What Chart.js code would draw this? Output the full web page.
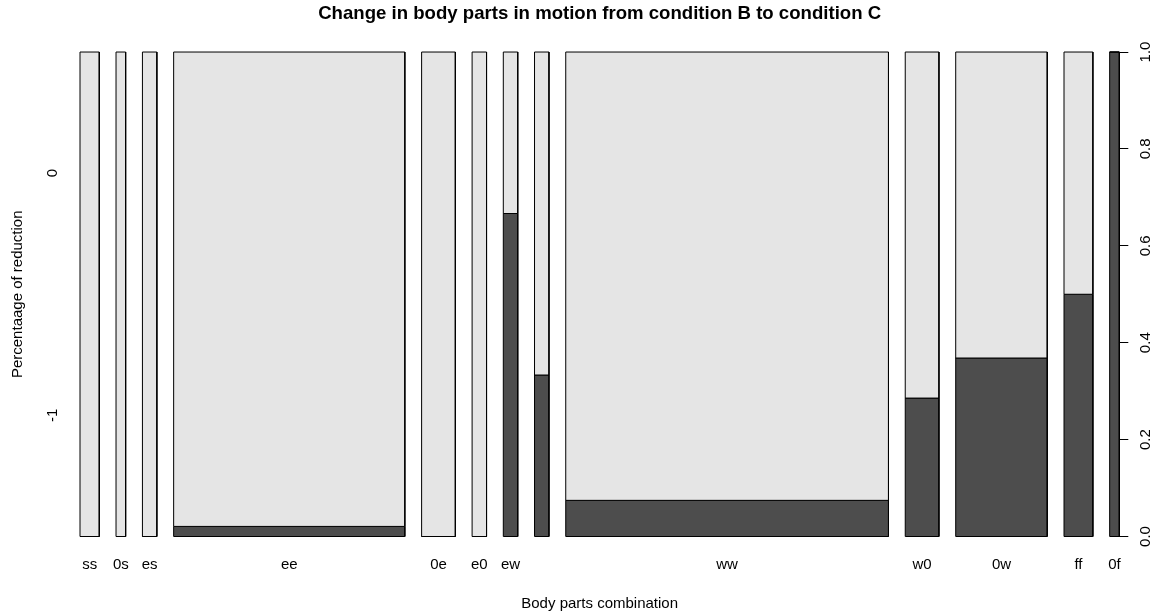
<!DOCTYPE html>
<html>
<head>
<meta charset="utf-8">
<title>Change in body parts in motion from condition B to condition C</title>
<script src="https://cdn.jsdelivr.net/npm/chart.js@4.4.1/dist/chart.umd.min.js"></script>
<style>
  html, body { margin: 0; padding: 0; background: #fff; }
  canvas { display: block; }
</style>
</head>
<body>
<canvas id="chart" width="1158" height="611"></canvas>
<script>
// body part combinations on the x axis (one label is not printed in the original)
const categories = ['ss', '0s', 'es', 'ee', '0e', 'e0', 'ew', '', 'ww', 'w0', '0w', 'ff', '0f'];
// observations per combination -> column widths
const totalCounts = [4, 2, 3, 48, 7, 3, 3, 3, 67, 7, 19, 6, 2];
// how many of those are in level "-1" (the dark part)
const reducedCounts = [0, 0, 0, 1, 0, 0, 2, 1, 5, 2, 7, 3, 2];
// y levels, bottom to top
const yLevels = ['-1', '0'];
const rightTicks = [0, 0.2, 0.4, 0.6, 0.8, 1];

const LIGHT = '#e5e5e5';
const DARK = '#4d4d4d';
const FONT = '"Liberation Sans", Arial, Helvetica, sans-serif';

// spineplot geometry: widths proportional to counts, 2% gap between columns
const off = 0.02;
const total = totalCounts.reduce((a, b) => a + b, 0);
const xLeft = [], xRight = [], share = [];
let pos = 0;
totalCounts.forEach((n, i) => {
  xLeft.push(pos);
  xRight.push(pos + n / total);
  share.push(reducedCounts[i] / n);
  pos += n / total + off;
});
const xMax = 1 + off * (categories.length - 1);
const centers = xLeft.map((l, i) => (l + xRight[i]) / 2);

const rect = (x0, x1, y0, y1) => [
  { x: x0, y: y0 }, { x: x0, y: y1 }, { x: x1, y: y1 }, { x: x1, y: y0 }, { x: x0, y: y0 }
];

const datasets = [];
categories.forEach((c, i) => {
  const common = {
    showLine: true, fill: 'shape', borderColor: '#000', borderWidth: 1,
    pointRadius: 0, pointHoverRadius: 0, tension: 0, clip: 2
  };
  datasets.push(Object.assign({ label: c + ' 0', data: rect(xLeft[i], xRight[i], share[i], 1), backgroundColor: LIGHT }, common));
  datasets.push(Object.assign({ label: c + ' -1', data: rect(xLeft[i], xRight[i], 0, share[i]), backgroundColor: DARK }, common));
});

// R draws its axis labels parallel to the axis, Chart.js can't rotate y ticks
const rotatedLabels = {
  id: 'rotatedLabels',
  afterDraw(chart) {
    const { ctx, scales } = chart;
    const put = (text, x, y) => {
      ctx.save();
      ctx.translate(x, y);
      ctx.rotate(-Math.PI / 2);
      ctx.fillText(text, 0, 0);
      ctx.restore();
    };
    ctx.save();
    ctx.fillStyle = '#000';
    ctx.font = '15px ' + FONT;
    ctx.textAlign = 'center';
    ctx.textBaseline = 'middle';
    rightTicks.forEach(v => put(v.toFixed(1), scales.y2.right - 12, scales.y2.getPixelForValue(v)));
    yLevels.forEach((t, k) => put(t, scales.y.right - 27, scales.y.getPixelForValue((k + 0.5) / yLevels.length)));
    ctx.restore();
  }
};

Chart.defaults.color = '#000';
Chart.defaults.font.family = FONT;
Chart.defaults.font.size = 15;

new Chart(document.getElementById('chart'), {
  type: 'scatter',
  data: { datasets },
  plugins: [rotatedLabels],
  options: {
    responsive: false,
    animation: false,
    devicePixelRatio: 1,
    layout: { padding: 0 },
    plugins: {
      legend: { display: false },
      tooltip: { enabled: false },
      title: {
        display: true,
        text: 'Change in body parts in motion from condition B to condition C',
        font: { size: 18.6, weight: 'bold' },
        fullSize: false,
        padding: { top: 2.6, bottom: 27.1 }
      }
    },
    scales: {
      x: {
        type: 'linear',
        min: 0,
        max: xMax,
        grid: { display: false, drawTicks: false },
        border: { display: false },
        afterBuildTicks: scale => { scale.ticks = centers.map(v => ({ value: v })); },
        afterFit: scale => { scale.height = 74.5; },
        ticks: {
          autoSkip: false,
          maxRotation: 0,
          padding: 19,
          callback: (v, i) => categories[i]
        },
        title: { display: true, text: 'Body parts combination', font: { lineHeight: 1 }, padding: { top: 0, bottom: 0 } }
      },
      y: {
        position: 'left',
        min: 0,
        max: 1,
        grid: { display: false },
        border: { display: false },
        ticks: { display: false },
        afterFit: scale => { scale.width = 80; },
        title: { display: true, text: 'Percentaage of reduction', font: { lineHeight: 1 }, padding: { top: 10, bottom: 0 } }
      },
      y2: {
        position: 'right',
        min: 0,
        max: 1,
        grid: { drawOnChartArea: false, drawTicks: true, tickLength: 9, color: '#000' },
        border: { display: true, color: '#000' },
        ticks: { display: false, stepSize: 0.2 },
        afterFit: scale => { scale.width = 38.7; }
      }
    }
  }
});
</script>
</body>
</html>
